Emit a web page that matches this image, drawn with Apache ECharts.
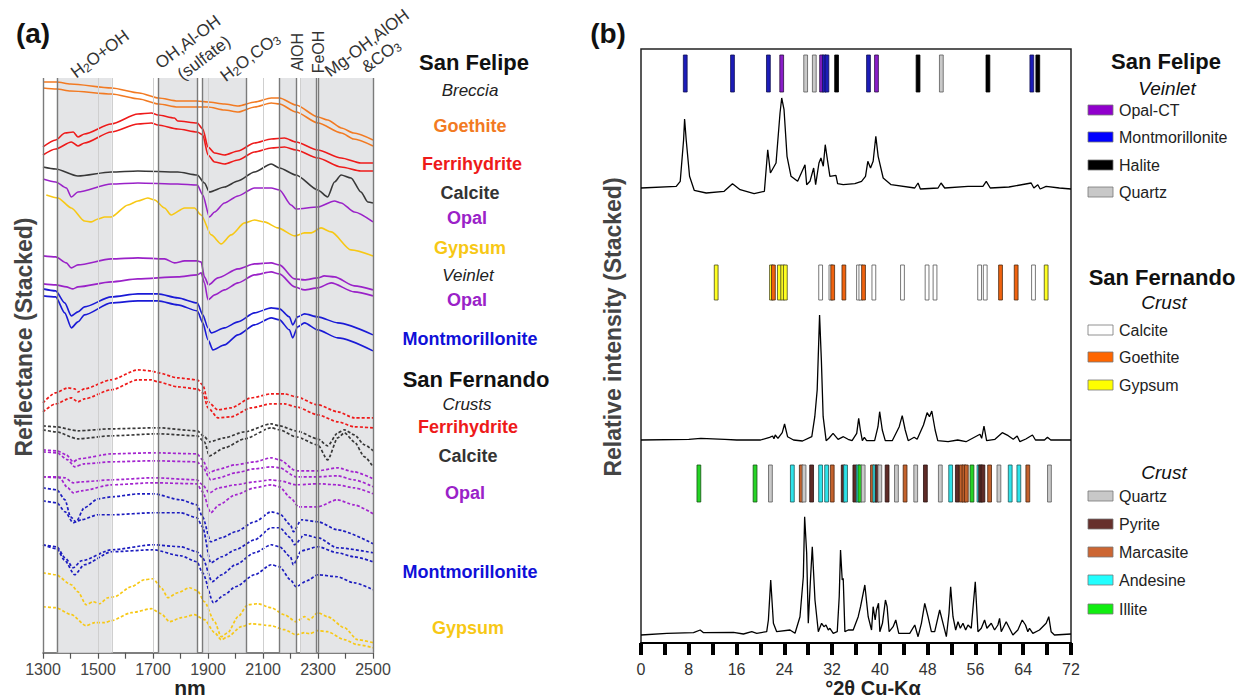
<!DOCTYPE html>
<html>
<head>
<meta charset="utf-8">
<script src="https://cdn.jsdelivr.net/npm/echarts@6/dist/echarts.min.js"></script>
<style>
html,body{margin:0;padding:0;background:#fff;}
#chart{width:1240px;height:700px;}
</style>
</head>
<body>
<div id="chart"></div>
<script>
// ---------- (a) VNIR-SWIR reflectance spectra, stacked (wavelength nm, offset reflectance) ----------
const goethiteSF_a = [[1300,571],[1350,571],[1400,569],[1550,565],[1650,560],[1720,555],[1790,552],[1860,552],[1900,551],[1960,549],[2010,547],[2070,551],[2130,555],[2160,555],[2220,548],[2300,536],[2335,533],[2385,525],[2430,520],[2500,513]];
const goethiteSF_b = [[1300,565],[1350,564],[1400,562],[1550,559],[1650,554],[1720,549],[1790,546],[1860,546],[1900,546],[1960,543],[2010,541],[2070,546],[2130,550],[2160,549],[2220,541],[2300,530],[2385,520],[2430,514],[2500,507]];
const ferrihydriteSF_a = [[1300,506],[1346,513],[1380,520],[1410,521],[1427,516],[1451,519],[1548,529],[1645,539],[1694,540],[1718,538],[1778,535],[1790,532],[1861,530],[1881,524],[1900,506],[1924,500],[1960,498],[2009,502],[2069,510],[2130,514],[2178,515],[2220,511],[2299,503],[2384,495],[2456,490],[2500,490]];
const ferrihydriteSF_b = [[1300,498],[1346,504],[1403,511],[1427,507],[1451,510],[1548,521],[1645,529],[1694,530],[1718,528],[1790,524],[1861,521],[1881,518],[1900,498],[1924,491],[1960,489],[2009,493],[2069,501],[2130,505],[2178,506],[2220,503],[2299,495],[2384,486],[2456,482],[2500,482]];
const calciteSF = [[1300,486],[1346,484],[1427,477],[1548,481],[1645,482],[1790,481],[1861,478],[1887,470],[1905,461],[1960,466],[2009,472],[2069,481],[2130,489],[2160,485],[2220,478],[2299,463],[2335,456],[2360,471],[2384,478],[2420,475],[2456,461],[2481,451],[2500,450]];
const opalSF = [[1300,474],[1346,471],[1385,465],[1403,456],[1427,461],[1548,469],[1645,470],[1790,469],[1861,468],[1881,458],[1905,436],[1924,441],[1960,450],[2009,457],[2069,465],[2130,465],[2160,463],[2202,448],[2220,444],[2299,446],[2360,452],[2384,450],[2432,441],[2500,431]];
const gypsumSF = [[1312,458],[1354,455],[1403,445],[1451,432],[1476,431],[1500,434],[1524,436],[1548,436],[1609,448],[1645,452],[1681,455],[1706,453],[1742,445],[1766,438],[1815,445],[1851,445],[1875,438],[1912,418],[1948,409],[1984,418],[2033,430],[2069,433],[2105,431],[2154,425],[2215,417],[2251,420],[2275,420],[2311,425],[2348,421],[2420,403],[2500,397]];
const opalVein_a = [[1300,397],[1346,396],[1385,390],[1403,385],[1427,388],[1548,394],[1645,395],[1742,394],[1778,390],[1815,392],[1861,392],[1875,391],[1887,376],[1902,368],[1936,375],[2009,384],[2069,389],[2130,390],[2160,388],[2215,374],[2251,373],[2299,375],[2323,377],[2360,376],[2432,367],[2500,363]];
const opalVein_b = [[1300,369],[1346,368],[1385,366],[1409,364],[1427,366],[1548,371],[1645,374],[1790,376],[1861,378],[1875,380],[1887,370],[1900,353],[1924,358],[1960,363],[2009,370],[2069,378],[2130,381],[2160,379],[2215,366],[2251,363],[2299,365],[2348,370],[2432,361],[2500,357]];
const montVein_a = [[1300,364],[1346,362],[1379,350],[1403,337],[1427,341],[1451,346],[1548,356],[1645,359],[1718,359],[1790,355],[1861,350],[1881,338],[1900,325],[1912,320],[1960,325],[2009,331],[2069,340],[2130,345],[2160,344],[2196,336],[2208,328],[2226,336],[2251,339],[2299,336],[2372,330],[2500,318]];
const montVein_b = [[1300,357],[1346,356],[1379,340],[1403,325],[1427,331],[1451,338],[1548,350],[1645,352],[1718,352],[1790,348],[1861,342],[1881,330],[1900,313],[1918,303],[1960,308],[2009,318],[2069,328],[2130,335],[2160,333],[2196,323],[2208,315],[2226,326],[2251,330],[2299,323],[2372,315],[2500,302]];
const ferrihydriteSFe_a = [[1300,250],[1346,260],[1391,265],[1415,264],[1427,261],[1451,264],[1548,273],[1645,283],[1694,282],[1718,280],[1790,275],[1861,273],[1881,268],[1900,251],[1936,243],[1984,245],[2057,255],[2130,259],[2178,259],[2220,256],[2299,248],[2372,241],[2432,235],[2500,235]];
const ferrihydriteSFe_b = [[1300,241],[1346,249],[1403,255],[1427,251],[1451,254],[1548,263],[1645,273],[1694,273],[1718,271],[1790,266],[1861,264],[1881,260],[1900,245],[1936,235],[1984,236],[2057,245],[2130,249],[2178,249],[2220,246],[2299,238],[2372,231],[2432,226],[2500,225]];
const calciteSFe_a = [[1300,227],[1346,226],[1427,222],[1548,224],[1718,225],[1861,222],[1887,216],[1905,211],[1960,215],[2033,221],[2130,229],[2160,227],[2220,222],[2299,214],[2335,207],[2372,220],[2396,223],[2432,218],[2469,208],[2500,202]];
const calciteSFe_b = [[1300,223],[1346,221],[1427,214],[1548,217],[1718,219],[1861,217],[1887,211],[1905,197],[1960,205],[2033,214],[2130,225],[2160,223],[2220,216],[2299,208],[2335,193],[2372,215],[2396,220],[2432,211],[2469,196],[2500,186]];
const opalSFe_a = [[1300,203],[1350,202],[1385,198],[1410,191],[1430,194],[1550,199],[1700,200],[1860,199],[1880,193],[1905,180],[1930,183],[2000,188],[2070,191],[2130,195],[2160,193],[2220,182],[2300,182],[2370,185],[2430,181],[2500,174]];
const opalSFe_b = [[1300,201],[1350,200],[1390,193],[1415,186],[1450,189],[1550,191],[1700,192],[1860,191],[1880,186],[1910,173],[1940,175],[2000,180],[2070,184],[2130,186],[2160,185],[2220,176],[2300,176],[2370,177],[2430,173],[2500,166]];
const opalSFe_c = [[1300,176],[1350,176],[1380,175],[1410,170],[1440,171],[1550,173],[1700,175],[1860,173],[1880,168],[1905,160],[1940,165],[2000,168],[2070,171],[2130,173],[2160,172],[2220,168],[2300,169],[2370,168],[2430,165],[2500,159]];
const opalSFe_d = [[1300,176],[1360,175],[1390,165],[1410,160],[1440,162],[1550,168],[1700,170],[1860,169],[1880,161],[1910,140],[1940,148],[2000,158],[2070,165],[2130,168],[2160,166],[2200,155],[2230,146],[2300,146],[2370,153],[2430,148],[2500,139]];
const montSFe_a = [[1300,165],[1350,163],[1380,153],[1400,136],[1420,131],[1450,145],[1500,154],[1550,156],[1650,159],[1700,159],[1800,153],[1860,148],[1880,136],[1910,111],[1950,115],[2000,121],[2070,131],[2130,141],[2160,139],[2200,128],[2210,121],[2240,133],[2300,131],[2370,123],[2500,109]];
const montSFe_b = [[1300,152],[1350,150],[1380,141],[1410,130],[1440,133],[1500,138],[1550,138],[1700,140],[1800,140],[1860,135],[1880,126],[1910,90],[1950,96],[2000,103],[2070,113],[2130,125],[2160,125],[2200,115],[2215,108],[2250,118],[2300,115],[2370,105],[2500,100]];
const montSFe_c = [[1300,108],[1350,106],[1380,95],[1410,85],[1440,92],[1550,103],[1700,108],[1800,106],[1860,101],[1880,95],[1915,71],[1950,78],[2000,88],[2070,100],[2130,108],[2160,106],[2200,96],[2210,88],[2240,102],[2300,106],[2370,100],[2430,96],[2500,91]];
const montSFe_d = [[1300,108],[1350,104],[1380,92],[1415,78],[1450,88],[1550,101],[1700,103],[1800,97],[1860,91],[1880,80],[1920,50],[1960,58],[2000,66],[2070,78],[2130,88],[2160,86],[2200,73],[2220,66],[2260,72],[2300,78],[2370,76],[2430,70],[2500,63]];
const gypsumSFe_a = [[1300,80],[1346,78],[1403,68],[1427,61],[1457,48],[1482,51],[1506,49],[1536,55],[1560,56],[1621,66],[1669,73],[1700,74],[1730,65],[1754,55],[1790,60],[1833,65],[1861,62],[1887,51],[1924,31],[1948,16],[1972,20],[2009,36],[2045,48],[2081,49],[2130,45],[2178,38],[2220,31],[2251,36],[2269,33],[2299,40],[2335,36],[2396,25],[2444,13],[2500,10]];
const gypsumSFe_b = [[1300,46],[1346,45],[1403,38],[1457,27],[1488,30],[1524,30],[1548,32],[1621,40],[1694,44],[1730,39],[1760,31],[1803,35],[1851,38],[1887,33],[1924,20],[1948,13],[1972,16],[2021,26],[2057,29],[2130,27],[2178,23],[2220,18],[2251,20],[2269,19],[2299,22],[2335,21],[2396,13],[2444,8],[2500,5]];

// absorption-feature windows (nm) and their boundary lines
const featureBands = [[1350,1550],[1720,1860],[1880,2040],[2160,2220],[2235,2295],[2300,2500]];
const boundaryLines = [1300,1350,1720,1860,1880,2040,2160,2220,2295,2300,2500];
const guideLines = [1500,1550,1700,1900,2100,2235];

// ---------- (b) XRD patterns (°2θ, relative intensity above each baseline) ----------
const xrdFelipeVeinlet = [[0,0],[5.9,1.7],[6.57,6.7],[7.13,48],[7.3,69],[7.57,48],[8.13,11.7],[8.91,-2.3],[10.92,-5],[13.92,-3.3],[15.32,4.3],[16.6,-1.7],[18.94,-5.7],[20.66,-3.3],[21.22,38.3],[21.67,15],[22.61,25],[23.28,75],[23.56,90],[23.95,78.3],[24.45,31.7],[25.12,11.7],[26.23,6.7],[27.46,23.3],[27.74,3.3],[28.29,6.7],[28.91,20],[29.24,3.3],[29.8,25],[30.13,30],[30.52,21.7],[30.85,43.3],[31.13,31.7],[31.63,11.7],[32.64,12.7],[32.92,4.3],[33.86,3.3],[35.81,4.3],[36.93,6.7],[37.59,11.7],[37.98,26.7],[38.43,20],[38.87,26.7],[39.32,51.7],[39.71,31.7],[40.55,10],[41.88,3.3],[45.84,0],[46.39,5],[46.78,-1],[49.74,0],[50.24,5],[50.85,0],[54.75,1.7],[57.25,1.7],[57.81,6.7],[58.48,0],[61.6,1],[65.33,5],[65.78,0],[66.44,3.3],[66.83,-1],[67.84,1.7],[70.06,0],[72,-1]];
const xrdFernandoCrust = [[0,0],[8.01,0.7],[10.02,1.7],[14.02,0.7],[16.03,0],[20.03,0],[21.54,2.7],[22.04,4],[22.26,1.3],[22.48,5],[22.93,1.7],[23.65,7.3],[24.04,16],[24.54,3.3],[25.54,0],[27.04,-1],[28.6,3.3],[29.1,23.3],[29.5,50],[29.9,125],[30.2,80],[30.5,23.3],[31.0,-0.7],[31.5,2],[32.16,6.7],[33.0,0.7],[33.89,3.3],[34.67,0.7],[35.34,-0.7],[36.12,6.7],[36.45,21.7],[36.73,10],[37.06,-0.7],[37.4,2.7],[37.78,-0.7],[39.12,-0.7],[39.68,13.3],[39.96,28.3],[40.4,10],[40.9,-0.7],[42.07,-0.7],[43.24,13.3],[43.74,24.3],[44.24,10],[44.74,-0.7],[45.74,2.7],[46.24,0.7],[47.3,15],[47.91,27.3],[48.3,23.3],[48.69,29],[49.25,10],[49.69,-0.7],[51.42,-1.7],[53.03,0],[54.42,-1.7],[56.76,5.7],[57.04,1.7],[57.43,14],[57.87,-0.7],[59.27,0.7],[60.49,7.3],[61.49,4.3],[62.33,0.7],[62.99,4],[63.44,-1.7],[64.44,1],[65.55,5],[66.05,0],[67.56,0],[68.06,2.7],[68.61,0],[72,0]];
const xrdCrust = [[0,0],[4.34,1.7],[8.8,2.3],[9.91,5],[10.47,2.3],[15.48,2.7],[17.15,1],[18.55,3.3],[19.38,1.7],[21.05,3.3],[21.33,15],[21.72,55],[22.17,11.7],[22.72,3.3],[24.95,5],[25.79,1.7],[26.62,18.3],[27.18,58.3],[27.4,118.3],[27.74,81.7],[28.01,11.7],[28.4,58.3],[28.68,88.3],[29.13,35],[29.69,3.3],[30.24,11.7],[30.63,8.3],[30.97,10],[31.36,5],[31.63,6.7],[32.19,1.7],[32.86,3.3],[33.19,38.3],[33.41,85],[33.69,55],[33.86,56.7],[34.14,3.3],[34.7,5],[35.53,5],[36.37,18.3],[36.76,28.3],[37.48,50],[38.04,18.3],[38.6,5],[38.87,28.3],[39.21,15],[39.43,25],[39.77,31.7],[39.99,3.3],[40.43,11.7],[40.93,35],[41.21,28.3],[41.55,3.3],[42.22,8.3],[42.66,15],[43.16,1.7],[45.0,1.7],[45.84,10],[46.39,-1.7],[46.95,11.7],[47.51,31.7],[48.06,18.3],[48.62,3.3],[49.18,3.3],[50.01,25],[50.57,11.7],[51.13,-1.7],[51.57,21.7],[51.85,48.3],[52.24,18.3],[52.69,5],[53.08,13.3],[53.47,6.7],[53.91,11.7],[54.36,5],[54.75,10],[55.3,6.7],[55.97,53.3],[56.42,3.3],[56.98,6.7],[57.53,15],[57.92,6.7],[58.65,11.7],[59.2,5],[59.76,10],[60.04,16.7],[60.32,3.3],[61.15,13.3],[62.27,0],[63.1,5],[63.83,15],[64.38,10],[64.77,3.3],[65.05,6.7],[65.61,1.7],[66.72,5],[67.84,11.7],[68.28,18.3],[68.67,3.3],[69.23,0],[72,1]];

// reference peak positions (°2θ) for identified phases
const felipeVeinletPeaks = [[7.41,'Montmorillonite'],[15.32,'Montmorillonite'],[21.33,'Montmorillonite'],[23.56,'Opal-CT'],[27.57,'Quartz'],[29.02,'Quartz'],[30.24,'Opal-CT'],[30.69,'Montmorillonite'],[31.13,'Montmorillonite'],[32.75,'Halite'],[38.09,'Montmorillonite'],[39.43,'Opal-CT'],[46.39,'Halite'],[50.29,'Quartz'],[58.09,'Halite'],[65.44,'Montmorillonite'],[66.44,'Halite']];
const fernandoCrustPeaks = [[12.59,'Gypsum'],[21.85,'Gypsum'],[22.17,'Goethite'],[23.17,'Gypsum'],[23.73,'Gypsum'],[24.17,'Gypsum'],[30.08,'Calcite'],[31.8,'Calcite'],[32.1,'Goethite'],[33.97,'Goethite'],[36.42,'Calcite'],[36.81,'Calcite'],[37.26,'Goethite'],[38.99,'Calcite'],[43.78,'Calcite'],[47.9,'Calcite'],[49.23,'Calcite'],[56.7,'Calcite'],[57.64,'Calcite'],[60.2,'Goethite'],[62.82,'Goethite'],[65.72,'Calcite'],[67.84,'Gypsum']];
const crustPeaks = [[9.69,'Illite'],[19.1,'Illite'],[21.67,'Quartz'],[25.34,'Andesine'],[26.84,'Marcasite'],[27.3,'Quartz'],[28.57,'Pyrite'],[30.07,'Andesine'],[31.08,'Andesine'],[32.02,'Marcasite'],[33.86,'Pyrite'],[34.25,'Andesine'],[35.81,'Pyrite'],[36.37,'Andesine'],[36.65,'Illite'],[37.2,'Quartz'],[38.76,'Marcasite'],[39.15,'Andesine'],[39.54,'Pyrite'],[39.99,'Quartz'],[41.21,'Pyrite'],[42.77,'Quartz'],[44.22,'Marcasite'],[46.0,'Quartz'],[47.62,'Pyrite'],[50.12,'Quartz'],[51.85,'Andesine'],[52.97,'Pyrite'],[53.63,'Marcasite'],[54.08,'Marcasite'],[54.47,'Marcasite'],[55.42,'Illite'],[56.59,'Andesine'],[56.87,'Pyrite'],[57.25,'Pyrite'],[58.37,'Marcasite'],[59.93,'Quartz'],[61.82,'Andesine'],[63.27,'Andesine'],[64.77,'Marcasite'],[68.39,'Quartz']];

const twoThetaTicks = [0,8,16,24,32,40,48,56,64,72];
const nmTicks = [1300,1500,1700,1900,2100,2300,2500];

// ---------- styling ----------
const FONT = '"Liberation Sans", Arial, Helvetica, sans-serif';
const C = {
  goethite:'#f27a22', ferri:'#ee1a1a', calcite:'#383838', opal:'#9a22c8',
  gypsum:'#f7c815', mont:'#1a1ad6', montD:'#1c1cbf', opalD:'#a324cf'
};
const phaseStyle = {
  'Opal-CT':        {fill:'#8a1ec8', stroke:'#2a1040', key:'#9000cc'},
  'Montmorillonite':{fill:'#1c1cb8', stroke:'#101050', key:'#0000ff'},
  'Halite':         {fill:'#000000', stroke:'#000000', key:'#000000'},
  'Quartz':         {fill:'#c9c9c9', stroke:'#5a5a5a', key:'#c8c8c8'},
  'Calcite':        {fill:'#ffffff', stroke:'#555555', key:'#ffffff'},
  'Goethite':       {fill:'#f0620e', stroke:'#4a2a10', key:'#ff6600'},
  'Gypsum':         {fill:'#ffff22', stroke:'#4a4a20', key:'#ffff00'},
  'Pyrite':         {fill:'#5e2b27', stroke:'#2a1210', key:'#66302c'},
  'Marcasite':      {fill:'#c3622c', stroke:'#4a2410', key:'#cc6633'},
  'Andesine':       {fill:'#2ee3ea', stroke:'#205858', key:'#22ffff'},
  'Illite':         {fill:'#25d425', stroke:'#145014', key:'#11ee11'}
};
const phases = Object.keys(phaseStyle);

const spectra = [
  [goethiteSF_a, C.goethite, false], [goethiteSF_b, C.goethite, false],
  [ferrihydriteSF_a, C.ferri, false], [ferrihydriteSF_b, C.ferri, false],
  [calciteSF, C.calcite, false], [opalSF, C.opal, false], [gypsumSF, C.gypsum, false],
  [opalVein_a, C.opal, false], [opalVein_b, C.opal, false],
  [montVein_a, C.mont, false], [montVein_b, C.mont, false],
  [ferrihydriteSFe_a, C.ferri, true], [ferrihydriteSFe_b, C.ferri, true],
  [calciteSFe_a, C.calcite, true], [calciteSFe_b, C.calcite, true],
  [opalSFe_a, C.opalD, true], [opalSFe_b, C.opalD, true], [opalSFe_c, C.opalD, true], [opalSFe_d, C.opalD, true],
  [montSFe_a, C.montD, true], [montSFe_b, C.montD, true], [montSFe_c, C.montD, true], [montSFe_d, C.montD, true],
  [gypsumSFe_a, C.gypsum, true], [gypsumSFe_b, C.gypsum, true]
];

// stacking: baseline of each pattern, and the value band where its peak ticks sit
const xrdStack = [
  {data: xrdFelipeVeinlet, base: 455, peaks: felipeVeinletPeaks, tick: [551, 588]},
  {data: xrdFernandoCrust, base: 203, peaks: fernandoCrustPeaks, tick: [343, 378]},
  {data: xrdCrust,         base: 8,   peaks: crustPeaks,         tick: [141, 178]}
];

const series = [];

// shaded absorption windows and boundary lines
series.push({
  type:'line', xAxisIndex:0, yAxisIndex:0, data:[], z:1, silent:true,
  markArea:{silent:true, itemStyle:{color:'#e4e5e7'}, data: featureBands.map(b => [{xAxis:b[0]},{xAxis:b[1]}])},
  markLine:{silent:true, symbol:['none','none'], label:{show:false},
    data: boundaryLines.map(x => ({xAxis:x, lineStyle:{color:'#7b7b7b', width:1.4, type:'solid'}}))
      .concat(guideLines.map(x => ({xAxis:x, lineStyle:{color:'#cfcfcf', width:1, type:'solid'}})))}
});

spectra.forEach(([d, col, dashed]) => {
  series.push({
    type:'line', xAxisIndex:0, yAxisIndex:0, data:d, showSymbol:false, symbol:'none',
    smooth:0.25, smoothMonotone:'x', z:3, silent:true,
    lineStyle:{color:col, width: dashed ? 1.7 : 1.6, type: dashed ? [3,2] : 'solid'}
  });
});

xrdStack.forEach(p => {
  series.push({
    type:'line', xAxisIndex:1, yAxisIndex:1, showSymbol:false, symbol:'none', z:3, silent:true,
    data: p.data.map(([t, v]) => [t, p.base + v]),
    lineStyle:{color:'#000', width:1.3}
  });
  series.push({
    type:'custom', xAxisIndex:1, yAxisIndex:1, z:4, silent:true,
    data: p.peaks.map(([t, name]) => [t, phases.indexOf(name)]),
    encode:{x:0},
    renderItem: function(params, api){
      const st = phaseStyle[phases[api.value(1)]];
      const top = api.coord([api.value(0), p.tick[1]]);
      const bot = api.coord([api.value(0), p.tick[0]]);
      return {type:'rect', shape:{x: top[0]-1.9, y: top[1], width: 3.8, height: bot[1]-top[1]},
              style:{fill: st.fill, stroke: st.stroke, lineWidth: 0.8}};
    }
  });
});

// ---------- text ----------
function T(x, y, text, o){
  o = o || {};
  return {type:'text', x:x, y:y, rotation:o.rot || 0, silent:true, z:10,
    style:{text:text, fill:o.fill || '#222', fontFamily:FONT, fontSize:o.size || 16,
      fontWeight:o.weight || 'normal', fontStyle:o.style || 'normal',
      align:o.align || 'center', textAlign:o.align || 'center',
      verticalAlign:'middle', textVerticalAlign:'middle', rich:o.rich}};
}
const subRich = {n:{fontSize:17, fontFamily:FONT, fill:'#333'}, s:{fontSize:12, fontFamily:FONT, fill:'#333', verticalAlign:'bottom', padding:[7,0,0,0]}};
const ang = 37 * Math.PI / 180;
const graphics = [
  T(33, 33, '(a)', {size:28, weight:'bold', fill:'#111'}),
  T(608, 33, '(b)', {size:28, weight:'bold', fill:'#111'}),
  T(24, 337, 'Reflectance (Stacked)', {size:23, weight:'bold', fill:'#444', rot:Math.PI/2}),
  T(613, 327, 'Relative intensity (Stacked)', {size:23, weight:'bold', fill:'#444', rot:Math.PI/2}),
  T(190, 687, 'nm', {size:21, weight:'bold', fill:'#222'}),
  T(873, 688, '°2θ Cu-Kα', {size:20, weight:'bold', fill:'#222'}),
  // absorption-feature labels
  T(100, 54, '{n|H}{s|2}{n|O+OH}', {rot:ang, rich:subRich}),
  T(188, 42, 'OH,Al-OH', {size:17, fill:'#333', rot:ang}),
  T(204, 58, '(sulfate)', {size:17, fill:'#333', rot:ang}),
  T(250, 57, '{n|H}{s|2}{n|O,CO}{s|3}', {rot:ang, rich:subRich}),
  T(297, 52, 'AlOH', {size:16, fill:'#333', rot:Math.PI/2}),
  T(318, 52, 'FeOH', {size:16, fill:'#333', rot:Math.PI/2}),
  T(367, 43, 'Mg-OH,AlOH', {size:17, fill:'#333', rot:ang}),
  T(381, 56, '{n|&CO}{s|3}', {rot:ang, rich:subRich}),
  // spectra labels, panel (a)
  T(474, 62, 'San Felipe', {size:22, weight:'bold', fill:'#111'}),
  T(470, 90, 'Breccia', {size:17, style:'italic', fill:'#222'}),
  T(470, 126, 'Goethite', {size:18, weight:'bold', fill:C.goethite}),
  T(472, 164, 'Ferrihydrite', {size:18, weight:'bold', fill:C.ferri}),
  T(470, 193, 'Calcite', {size:18, weight:'bold', fill:'#333'}),
  T(467, 218, 'Opal', {size:18, weight:'bold', fill:C.opal}),
  T(470, 248, 'Gypsum', {size:18, weight:'bold', fill:C.gypsum}),
  T(468, 275, 'Veinlet', {size:17, style:'italic', fill:'#222'}),
  T(467, 300, 'Opal', {size:18, weight:'bold', fill:C.opal}),
  T(470, 339, 'Montmorillonite', {size:18, weight:'bold', fill:'#1010d8'}),
  T(476, 379, 'San Fernando', {size:22, weight:'bold', fill:'#111'}),
  T(467, 404, 'Crusts', {size:17, style:'italic', fill:'#222'}),
  T(468, 427, 'Ferrihydrite', {size:18, weight:'bold', fill:C.ferri}),
  T(468, 456, 'Calcite', {size:18, weight:'bold', fill:'#333'}),
  T(465, 493, 'Opal', {size:18, weight:'bold', fill:C.opal}),
  T(470, 572, 'Montmorillonite', {size:18, weight:'bold', fill:'#1010d8'}),
  T(468, 628, 'Gypsum', {size:18, weight:'bold', fill:C.gypsum}),
  // key, panel (b)
  T(1166, 61, 'San Felipe', {size:22, weight:'bold', fill:'#111'}),
  T(1167, 88, 'Veinlet', {size:19, style:'italic', fill:'#111'}),
  T(1162, 277, 'San Fernando', {size:22, weight:'bold', fill:'#111'}),
  T(1164, 302, 'Crust', {size:19, style:'italic', fill:'#111'}),
  T(1164, 472, 'Crust', {size:19, style:'italic', fill:'#111'})
];
const keyRows = [
  ['Opal-CT',110],['Montmorillonite',137],['Halite',165],['Quartz',192],
  ['Calcite',330],['Goethite',357],['Gypsum',385],
  ['Quartz',496],['Pyrite',524],['Marcasite',552],['Andesine',580],['Illite',609]
];
keyRows.forEach(([name, y]) => {
  const st = phaseStyle[name];
  graphics.push({type:'rect', silent:true, z:10, shape:{x:1088, y:y-5, width:25, height:10},
    style:{fill:st.key, stroke:'#777', lineWidth:0.8}});
  graphics.push(T(1119, y, name, {size:16, fill:'#222', align:'left'}));
});

const chart = echarts.init(document.getElementById('chart'), null, {renderer:'svg', width:1240, height:700});
chart.setOption({
  animation:false,
  backgroundColor:'#ffffff',
  grid:[
    {left:43, right:867, top:78, bottom:47.3},
    {left:641, right:169, top:49, bottom:57, show:true, borderColor:'#222', borderWidth:1.5, backgroundColor:'transparent'}
  ],
  xAxis:[
    {gridIndex:0, type:'value', min:1300, max:2500, interval:100,
     axisLine:{show:true, onZero:false, lineStyle:{color:'#555', width:1.5}},
     axisTick:{show:true, length:6, lineStyle:{color:'#555', width:1.2}},
     axisLabel:{color:'#444', fontSize:16, fontFamily:FONT, margin:9,
       formatter: v => nmTicks.indexOf(v) >= 0 ? String(v) : ''},
     splitLine:{show:false}},
    {gridIndex:1, type:'value', min:0, max:72, interval:4,
     axisLine:{show:true, onZero:false, lineStyle:{color:'#000', width:2}},
     axisTick:{show:true, length:12, lineStyle:{color:'#000', width:4}},
     axisLabel:{color:'#333', fontSize:16, fontFamily:FONT, margin:18,
       formatter: v => twoThetaTicks.indexOf(v) >= 0 ? String(v) : ''},
     splitLine:{show:false}}
  ],
  yAxis:[
    {gridIndex:0, type:'value', min:0, max:575, show:false},
    {gridIndex:1, type:'value', min:0, max:594, show:false}
  ],
  series: series,
  graphic: graphics
});
</script>
</body>
</html>
